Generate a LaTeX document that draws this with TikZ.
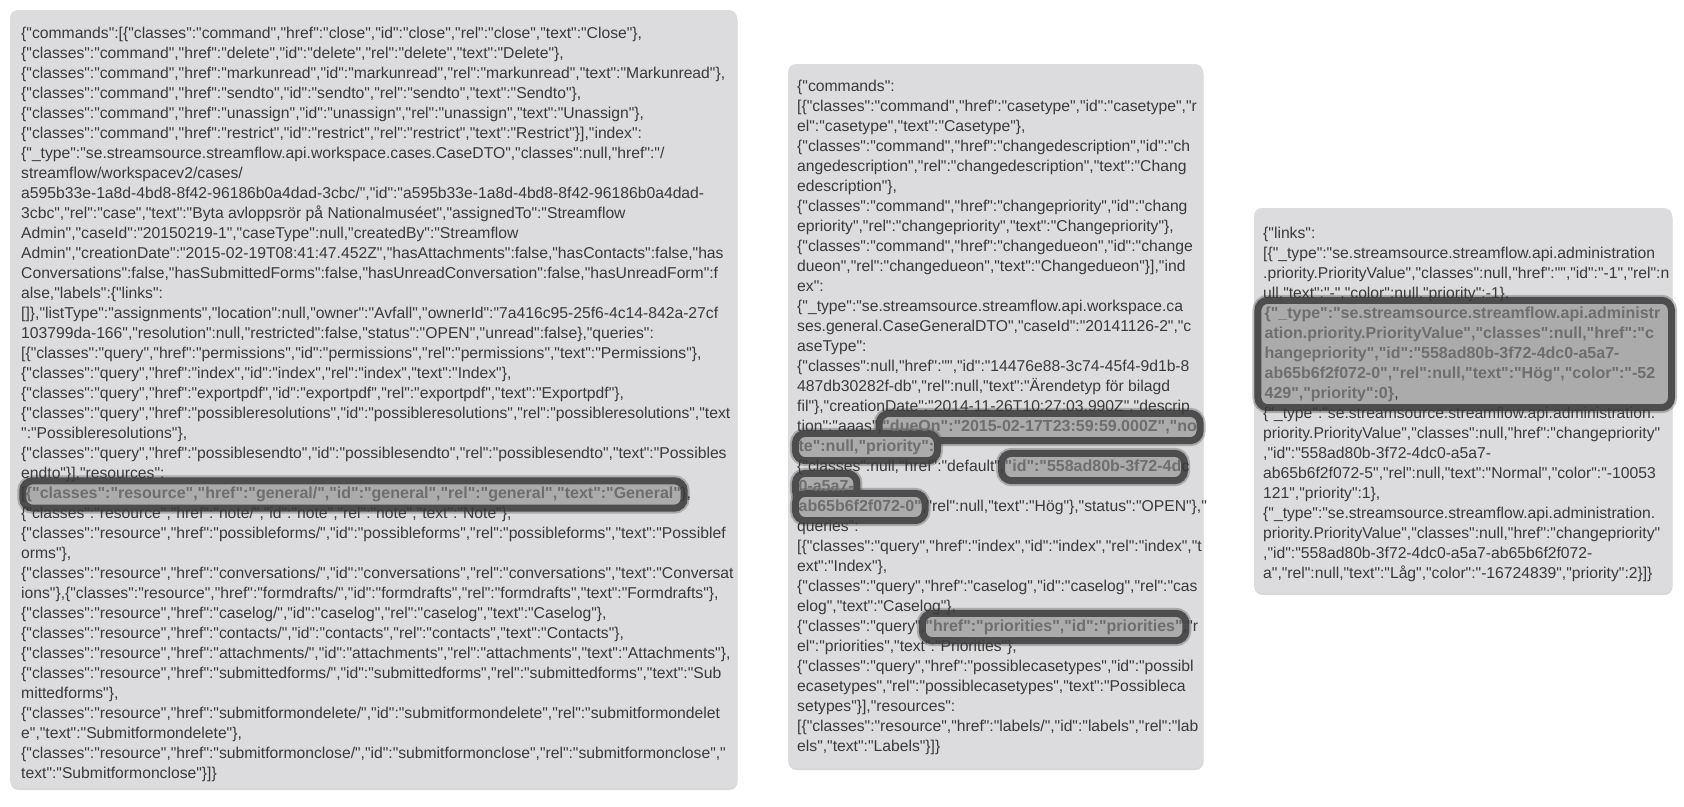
\documentclass[tikz,border=0pt]{standalone}
\usepackage{fontspec}
\setmainfont{Liberation Sans}[Ligatures={TeXOff,NoCommon}]
\usetikzlibrary{positioning,fit,shadows}
\pgfdeclarelayer{back}
\pgfsetlayers{back,main}

\definecolor{panelgrey}{HTML}{DCDCDE}
\definecolor{txtcol}{HTML}{3A3A3A}
\definecolor{hlfill}{HTML}{ABABAB}
\definecolor{hlborder}{HTML}{4D4D4D}
\definecolor{hltxt}{HTML}{6E6E6E}
\newcommand\jfont{\fontsize{15.7}{20}\selectfont}
\newcommand\jbold{\fontsize{16}{20}\selectfont\bfseries}

\tikzset{
  jsonline/.style={anchor=base west,inner sep=0pt,font=\jfont,text=txtcol},
  hltext/.style={anchor=base west,inner sep=0pt,font=\jbold,text=hltxt,
                 text height=11.5pt,text depth=3.5pt},
  panel/.style={fill=panelgrey,rounded corners=8pt,
                drop shadow={shadow xshift=0.5pt,shadow yshift=-2pt,opacity=0.3}},
  hlbox/.style={draw=hlborder,fill=hlfill,line width=7pt,rounded corners=10pt,
                inner xsep=3pt,inner ysep=6pt,
                preaction={draw=hlborder,line width=11pt,opacity=0.35}}
}

\begin{document}
\begin{tikzpicture}[x=1pt,y=-1pt]
  \useasboundingbox (0,0) rectangle (1684,806);

  % case list
  \foreach \txt [count=\i] in {
    {\{"commands":[\{"classes":"command","href":"close","id":"close","rel":"close","text":"Close"\},},
    {\{"classes":"command","href":"delete","id":"delete","rel":"delete","text":"Delete"\},},
    {\{"classes":"command","href":"markunread","id":"markunread","rel":"markunread","text":"Markunread"\},},
    {\{"classes":"command","href":"sendto","id":"sendto","rel":"sendto","text":"Sendto"\},},
    {\{"classes":"command","href":"unassign","id":"unassign","rel":"unassign","text":"Unassign"\},},
    {\{"classes":"command","href":"restrict","id":"restrict","rel":"restrict","text":"Restrict"\}],"index":},
    {\{"\_type":"se.streamsource.streamflow.api.workspace.cases.CaseDTO","classes":null,"href":"/},
    {streamflow/workspacev2/cases/},
    {a595b33e-1a8d-4bd8-8f42-96186b0a4dad-3cbc/","id":"a595b33e-1a8d-4bd8-8f42-96186b0a4dad-},
    {3cbc","rel":"case","text":"Byta avloppsrör på Nationalmuséet","assignedTo":"Streamflow},
    {Admin","caseId":"20150219-1","caseType":null,"createdBy":"Streamflow},
    {Admin","creationDate":"2015-02-19T08:41:47.452Z","hasAttachments":false,"hasContacts":false,"has},
    {Conversations":false,"hasSubmittedForms":false,"hasUnreadConversation":false,"hasUnreadForm":f},
    {alse,"labels":\{"links":},
    {[]\},"listType":"assignments","location":null,"owner":"Avfall","ownerId":"7a416c95-25f6-4c14-842a-27cf},
    {103799da-166","resolution":null,"restricted":false,"status":"OPEN","unread":false\},"queries":},
    {[\{"classes":"query","href":"permissions","id":"permissions","rel":"permissions","text":"Permissions"\},},
    {\{"classes":"query","href":"index","id":"index","rel":"index","text":"Index"\},},
    {\{"classes":"query","href":"exportpdf","id":"exportpdf","rel":"exportpdf","text":"Exportpdf"\},},
    {\{"classes":"query","href":"possibleresolutions","id":"possibleresolutions","rel":"possibleresolutions","text},
    {":"Possibleresolutions"\},},
    {\{"classes":"query","href":"possiblesendto","id":"possiblesendto","rel":"possiblesendto","text":"Possibles},
    {endto"\}],"resources":},
    {[},
    {\{"classes":"resource","href":"note/","id":"note","rel":"note","text":"Note"\},},
    {\{"classes":"resource","href":"possibleforms/","id":"possibleforms","rel":"possibleforms","text":"Possiblef},
    {orms"\},},
    {\{"classes":"resource","href":"conversations/","id":"conversations","rel":"conversations","text":"Conversat},
    {ions"\},\{"classes":"resource","href":"formdrafts/","id":"formdrafts","rel":"formdrafts","text":"Formdrafts"\},},
    {\{"classes":"resource","href":"caselog/","id":"caselog","rel":"caselog","text":"Caselog"\},},
    {\{"classes":"resource","href":"contacts/","id":"contacts","rel":"contacts","text":"Contacts"\},},
    {\{"classes":"resource","href":"attachments/","id":"attachments","rel":"attachments","text":"Attachments"\},},
    {\{"classes":"resource","href":"submittedforms/","id":"submittedforms","rel":"submittedforms","text":"Sub},
    {mittedforms"\},},
    {\{"classes":"resource","href":"submitformondelete/","id":"submitformondelete","rel":"submitformondelet},
    {e","text":"Submitformondelete"\},},
    {\{"classes":"resource","href":"submitformonclose/","id":"submitformonclose","rel":"submitformonclose","},
    {text":"Submitformonclose"\}]\}}
  }{\node[jsonline] (case-\i) at (21,{38.5+20*(\i-1)}) {\txt};}
  \node[hltext,base right=0pt of case-24] (hlgeneral) {\{"classes":"resource","href":"general/","id":"general","rel":"general","text":"General"};
  \node[jsonline,base right=0pt of hlgeneral] (case-24b) {\},};

  % case general
  \foreach \txt [count=\i] in {
    {\{"commands":},
    {[\{"classes":"command","href":"casetype","id":"casetype","r},
    {el":"casetype","text":"Casetype"\},},
    {\{"classes":"command","href":"changedescription","id":"ch},
    {angedescription","rel":"changedescription","text":"Chang},
    {edescription"\},},
    {\{"classes":"command","href":"changepriority","id":"chang},
    {epriority","rel":"changepriority","text":"Changepriority"\},},
    {\{"classes":"command","href":"changedueon","id":"change},
    {dueon","rel":"changedueon","text":"Changedueon"\}],"ind},
    {ex":},
    {\{"\_type":"se.streamsource.streamflow.api.workspace.ca},
    {ses.general.CaseGeneralDTO","caseId":"20141126-2","c},
    {aseType":},
    {\{"classes":null,"href":"","id":"14476e88-3c74-45f4-9d1b-8},
    {487db30282f-db","rel":null,"text":"Ärendetyp för bilagd},
    {fil"\},"creationDate":"2014-11-26T10:27:03.990Z","descrip},
    {tion":"aaas",},
    {},
    {\{"classes":null,"href":"default",},
    {},
    {},
    {queries":},
    {[\{"classes":"query","href":"index","id":"index","rel":"index","t},
    {ext":"Index"\},},
    {\{"classes":"query","href":"caselog","id":"caselog","rel":"cas},
    {elog","text":"Caselog"\},},
    {\{"classes":"query",},
    {el":"priorities","text":"Priorities"\},},
    {\{"classes":"query","href":"possiblecasetypes","id":"possibl},
    {ecasetypes","rel":"possiblecasetypes","text":"Possibleca},
    {setypes"\}],"resources":},
    {[\{"classes":"resource","href":"labels/","id":"labels","rel":"lab},
    {els","text":"Labels"\}]\}}
  }{\node[jsonline] (gen-\i) at (797,{91+20*(\i-1)}) {\txt};}
  \node[hltext,base right=0pt of gen-18] (hldue) {"dueOn":"2015-02-17T23:59:59.000Z","no};
  \node[hltext,base right=0pt of gen-19] (hlnote) {te":null,"priority":};
  \node[hltext,base right=0pt of gen-20] (hlid) {"id":"558ad80b-3f72-4d};
  \node[jsonline,base right=0pt of hlid] (gen-20b) {c};
  \node[hltext,base right=0pt of gen-21] (hlidb) {0-a5a7-};
  \node[hltext,base right=0pt of gen-22] (hlidc) {ab65b6f2f072-0"};
  \node[jsonline,base right=0pt of hlidc] (gen-22b) {,"rel":null,"text":"Hög"\},"status":"OPEN"\},"};
  \node[hltext,base right=0pt of gen-28] (hlprio) {"href":"priorities","id":"priorities"};
  \node[jsonline,base right=0pt of hlprio] (gen-28b) {,"r};

  % priorities
  \foreach \txt [count=\i] in {
    {\{"links":},
    {[\{"\_type":"se.streamsource.streamflow.api.administration},
    {.priority.PriorityValue","classes":null,"href":"","id":"-1","rel":n},
    {ull,"text":"-","color":null,"priority":-1\},},
    {},{},{},{},{},
    {\{"\_type":"se.streamsource.streamflow.api.administration.},
    {priority.PriorityValue","classes":null,"href":"changepriority"},
    {,"id":"558ad80b-3f72-4dc0-a5a7-},
    {ab65b6f2f072-5","rel":null,"text":"Normal","color":"-10053},
    {121","priority":1\},},
    {\{"\_type":"se.streamsource.streamflow.api.administration.},
    {priority.PriorityValue","classes":null,"href":"changepriority"},
    {,"id":"558ad80b-3f72-4dc0-a5a7-ab65b6f2f072-},
    {a","rel":null,"text":"Låg","color":"-16724839","priority":2\}]\}}
  }{\node[jsonline] (prio-\i) at (1263,{238+20*(\i-1)}) {\txt};}
  \node[hltext,base right=0pt of prio-5] (hlhog) {\{"\_type":"se.streamsource.streamflow.api.administr};
  \node[hltext,base right=0pt of prio-6] (hlhogb) {ation.priority.PriorityValue","classes":null,"href":"c};
  \node[hltext,base right=0pt of prio-7] (hlhogc) {hangepriority","id":"558ad80b-3f72-4dc0-a5a7-};
  \node[hltext,base right=0pt of prio-8] (hlhogd) {ab65b6f2f072-0","rel":null,"text":"Hög","color":"-52};
  \node[hltext,base right=0pt of prio-9] (hlhoge) {429","priority":0\}};
  \node[jsonline,base right=0pt of hlhoge] (prio-9b) {,};
  \coordinate (prio-edge) at (1665,318);

  \begin{pgfonlayer}{back}
    \fill[white] (0,0) rectangle (1684,806);
    \fill[panel] (10,10) rectangle (737,788);
    \fill[panel] (788,64) rectangle (1203,768);
    \fill[panel] (1254,208) rectangle (1672,593);
    \node[hlbox,fit=(hlgeneral)] (boxgeneral) {};
    \node[hlbox,fit=(hldue)] (boxdue) {};
    \node[hlbox,fit=(hlnote)] (boxnote) {};
    \node[hlbox,fit=(hlid)] (boxid) {};
    \node[hlbox,fit=(hlidb)] (boxidb) {};
    \node[hlbox,fit=(hlidc)] (boxidc) {};
    \node[hlbox,fit=(hlprio)] (boxprio) {};
    \node[hlbox,inner xsep=6.5pt,fit=(hlhog)(hlhoge)(prio-edge)] (boxhog) {};
  \end{pgfonlayer}
\end{tikzpicture}
\end{document}
